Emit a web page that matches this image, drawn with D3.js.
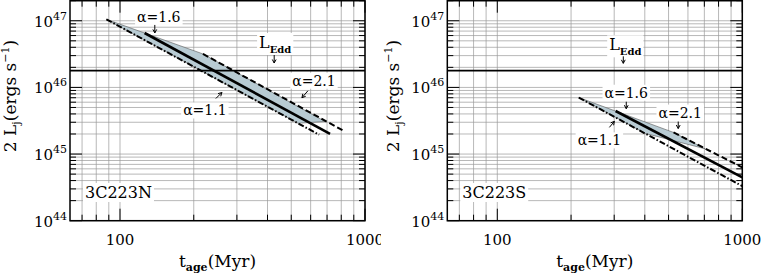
<!DOCTYPE html>
<html>
<head>
<meta charset="UTF-8">
<title>Jet power vs age, 3C223</title>
<script src="https://d3js.org/d3.v7.min.js"></script>
<style>
  body { margin: 0; background: #fff; }
  svg { position: absolute; top: 0; }
  text { font-family: "DejaVu Serif", serif; fill: #000; }
</style>
</head>
<body>
<script>
  // axis ranges (Myr, erg/s)
  const ageDomain = [62.5, 1000];
  const lumDomain = [1e44, 2e47];
  const xTickLabels = [100, 1000];
  const yTickExps = [44, 45, 46, 47];
  const lEdd = 1.78e46;

  // 3C223N : end points of each alpha curve
  const nAge11 = [88, 650],  nLum11 = [1.05e47, 1.95e45];
  const nAge16 = [126, 720], nLum16 = [6.55e46, 2.01e45];
  const nAge21 = [218, 813], nLum21 = [3.18e46, 2.26e45];
  const nShadeAge = [88, 218, 687, 533];
  const nShadeLum = [1.05e47, 3.18e46, 3.08e45, 2.9e45];

  // 3C223S
  const sAge11 = [215, 1000], sLum11 = [7.05e45, 3.3e44];
  const sAge16 = [304, 1000], sLum16 = [4.43e45, 4.46e44];
  const sAge21 = [524, 1000], sLum21 = [2.11e45, 6.3e44];
  const sShadeAge = [215, 524, 705, 402];
  const sShadeLum = [7.05e45, 2.11e45, 1.2e45, 2.04e45];

  // annotations: text anchor in data coords, arrow as pixel offsets
  const nNotes = [
    { t: "α=1.6", age: 144, lum: 9.6e46, arrow: [-4, 3, -4, 11] },
    { t: "L", sub: "Edd", age: 430, lum: 3.9e46, arrow: [-1, 7, -1, 15] },
    { t: "α=2.1", age: 619, lum: 1.06e46, arrow: [-6, 5, -12, 12] },
    { t: "α=1.1", age: 222, lum: 3.79e45, arrow: [11, -17, 17, -23] }
  ];
  const sNotes = [
    { t: "α=1.6", age: 336, lum: 7.0e45, arrow: [0, 4, 0, 11] },
    { t: "L", sub: "Edd", age: 333, lum: 3.6e46, arrow: [-2, 6, -2, 13] },
    { t: "α=2.1", age: 558, lum: 3.53e45, arrow: [-2, 4, -2, 11] },
    { t: "α=1.1", age: 261, lum: 1.35e45, arrow: [10, -18, 15, -24] }
  ];

  const zip = (a, b) => a.map((v, i) => [v, b[i]]);

  function drawPanel(p) {
    const W = 295, top = 0.7, bottom = 220.7;
    const svg = d3.select("body").append("svg")
      .attr("width", p.w).attr("height", 278)
      .style("left", p.left + "px");

    const x = d3.scaleLog().domain(ageDomain).range([p.x0, p.x0 + W]);
    const y = d3.scaleLog().domain(lumDomain).range([bottom, top]);

    svg.append("clipPath").attr("id", "clip" + p.id)
      .append("rect").attr("x", p.x0).attr("y", top).attr("width", W).attr("height", bottom - top);

    const isMajor = v => Math.abs(Math.log10(v) - Math.round(Math.log10(v))) < 1e-6;
    const xt = x.ticks(), yt = y.ticks();

    // grid
    const grid = svg.append("g").attr("stroke", "#9a9a9a").attr("stroke-width", 0.7);
    grid.selectAll(".gx").data(xt).join("line")
      .attr("x1", d => x(d)).attr("x2", d => x(d)).attr("y1", top).attr("y2", bottom);
    grid.selectAll(".gy").data(yt).join("line")
      .attr("y1", d => y(d)).attr("y2", d => y(d)).attr("x1", p.x0).attr("x2", p.x0 + W);

    // ticks, inward on all four sides
    const tk = svg.append("g").attr("stroke", "#000").attr("stroke-width", 1);
    xt.forEach(d => {
      const L = isMajor(d) ? 12 : 6;
      tk.append("line").attr("x1", x(d)).attr("x2", x(d)).attr("y1", bottom).attr("y2", bottom - L);
      tk.append("line").attr("x1", x(d)).attr("x2", x(d)).attr("y1", top).attr("y2", top + L);
    });
    yt.forEach(d => {
      const L = isMajor(d) ? 12 : 6;
      tk.append("line").attr("y1", y(d)).attr("y2", y(d)).attr("x1", p.x0).attr("x2", p.x0 + L);
      tk.append("line").attr("y1", y(d)).attr("y2", y(d)).attr("x1", p.x0 + W).attr("x2", p.x0 + W - L);
    });

    const plot = svg.append("g").attr("clip-path", "url(#clip" + p.id + ")");
    const line = d3.line().x(d => x(d[0])).y(d => y(d[1]));

    // shaded range
    plot.append("path")
      .datum(zip(p.shadeAge, p.shadeLum))
      .attr("d", d => line(d) + "Z")
      .attr("fill", "#b8cbd3")
      .attr("stroke", "#555").attr("stroke-width", 0.6);

    // Eddington luminosity
    plot.append("line")
      .attr("x1", p.x0).attr("x2", p.x0 + W)
      .attr("y1", y(lEdd)).attr("y2", y(lEdd))
      .attr("stroke", "#000").attr("stroke-width", 1.8);

    plot.append("path").datum(zip(p.age11, p.lum11)).attr("d", line)
      .attr("fill", "none").attr("stroke", "#000").attr("stroke-width", 2)
      .attr("stroke-dasharray", "6,2,1.5,2");
    plot.append("path").datum(zip(p.age21, p.lum21)).attr("d", line)
      .attr("fill", "none").attr("stroke", "#000").attr("stroke-width", 2)
      .attr("stroke-dasharray", "6,3");
    plot.append("path").datum(zip(p.age16, p.lum16)).attr("d", line)
      .attr("fill", "none").attr("stroke", "#000").attr("stroke-width", 2.6);

    // annotations
    p.notes.forEach(n => {
      const cx = x(n.age), cy = y(n.lum);
      const t = svg.append("text").attr("x", cx).attr("y", cy)
        .attr("text-anchor", "middle").style("font-size", n.sub ? "16px" : "14px").text(n.t);
      if (n.sub) {
        t.append("tspan").attr("dy", 5).style("font-size", "10px").style("font-weight", "bold").text(n.sub);
      }
      const bb = t.node().getBBox();
      svg.insert("rect", "text")
        .attr("x", bb.x - 2).attr("y", bb.y).attr("width", bb.width + 4).attr("height", bb.height)
        .attr("fill", "#fff");
      const [x1, y1, x2, y2] = n.arrow.map((v, i) => v + (i % 2 ? cy : cx));
      const ang = Math.atan2(y2 - y1, x2 - x1), h = 4;
      svg.append("path")
        .attr("d", `M${x1},${y1}L${x2},${y2}` +
          `M${x2 - h * Math.cos(ang - 0.5)},${y2 - h * Math.sin(ang - 0.5)}L${x2},${y2}` +
          `L${x2 - h * Math.cos(ang + 0.5)},${y2 - h * Math.sin(ang + 0.5)}`)
        .attr("fill", "none").attr("stroke", "#000").attr("stroke-width", 1);
    });

    // source name
    const nm = svg.append("text").attr("x", p.x0 + 15).attr("y", 198)
      .style("font-size", "16px").text(p.name);
    const nb = nm.node().getBBox();
    svg.insert("rect", "text").attr("x", nb.x - 2).attr("y", nb.y).attr("width", nb.width + 4)
      .attr("height", nb.height).attr("fill", "#fff");

    // frame
    svg.append("rect").attr("x", p.x0).attr("y", top).attr("width", W).attr("height", bottom - top)
      .attr("fill", "none").attr("stroke", "#000").attr("stroke-width", 1.5);

    // tick labels
    yTickExps.forEach(e => {
      const t = svg.append("text").attr("x", p.x0 - 3).attr("y", y(Math.pow(10, e)) + 6)
        .attr("text-anchor", "end").style("font-size", "15px").text("10");
      t.append("tspan").attr("dy", -7).style("font-size", "11px").text(e);
    });
    xTickLabels.forEach(v => {
      svg.append("text").attr("x", x(v)).attr("y", 245).attr("text-anchor", "middle")
        .style("font-size", "15px").text(v);
    });

    // axis titles
    const xt2 = svg.append("text").attr("x", p.x0 + W / 2).attr("y", 267)
      .attr("text-anchor", "middle").style("font-size", "17px").text("t");
    xt2.append("tspan").attr("dy", 4).style("font-size", "11px").style("font-weight", "bold").text("age");
    xt2.append("tspan").attr("dy", -4).text("(Myr)");

    const yt2 = svg.append("text")
      .attr("transform", `translate(${p.yTitleX},96) rotate(-90)`)
      .attr("text-anchor", "middle").style("font-size", "17px").text("2 L");
    yt2.append("tspan").attr("dy", 4).style("font-size", "11px").text("j");
    yt2.append("tspan").attr("dy", -4).text("(ergs s");
    yt2.append("tspan").attr("dy", -7).style("font-size", "11px").text("−1");
    yt2.append("tspan").attr("dy", 7).text(")");
  }

  drawPanel({ id: "N", left: 0, w: 381, x0: 70, yTitleX: 16, name: "3C223N",
    age11: nAge11, lum11: nLum11, age16: nAge16, lum16: nLum16, age21: nAge21, lum21: nLum21,
    shadeAge: nShadeAge, shadeLum: nShadeLum, notes: nNotes });
  drawPanel({ id: "S", left: 381, w: 382, x0: 66.3, yTitleX: 18, name: "3C223S",
    age11: sAge11, lum11: sLum11, age16: sAge16, lum16: sLum16, age21: sAge21, lum21: sLum21,
    shadeAge: sShadeAge, shadeLum: sShadeLum, notes: sNotes });
</script>
</body>
</html>
